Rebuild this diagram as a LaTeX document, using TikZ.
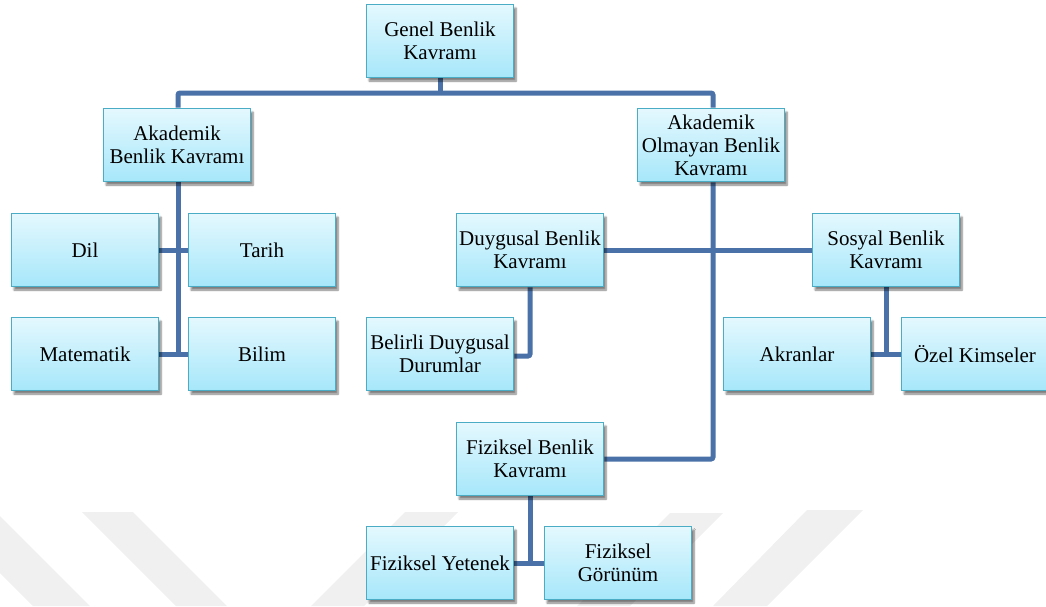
\documentclass[tikz,border=0pt]{standalone}
\usepackage{fontspec}
\setmainfont{Liberation Serif}
\usetikzlibrary{shadows.blur}

\definecolor{linkblue}{RGB}{74,114,168}
\definecolor{boxedge}{RGB}{75,172,198}
\definecolor{boxtop}{RGB}{228,248,254}
\definecolor{boxbottom}{RGB}{166,231,250}
\definecolor{markgray}{RGB}{240,240,240}

\pgfdeclarelayer{mark}
\pgfdeclarelayer{links}
\pgfsetlayers{mark,links,main}

\tikzset{
  concept/.style={
    draw=boxedge, line width=1.6pt,
    top color=boxtop, bottom color=boxbottom,
    minimum width=147pt, minimum height=73pt,
    inner sep=0pt, align=center,
    font=\fontsize{21}{23}\selectfont,
    blur shadow={shadow xshift=2.5pt, shadow yshift=-3.5pt,
                 shadow opacity=50, shadow blur steps=6}
  },
  link/.style={draw=linkblue, line width=5pt, rounded corners=2pt},
  band/.style={fill=markgray, draw=none}
}

\begin{document}
\begin{tikzpicture}[x=1pt, y=-1pt]
\useasboundingbox (0,0) rectangle (1046,606);

% concept boxes
\node[concept] (gen) at (440,41)  {Genel Benlik\\Kavramı};
\node[concept] (akd) at (177,145) {Akademik\\Benlik Kavramı};
\node[concept] (ako) at (711,145) {Akademik\\Olmayan Benlik\\Kavramı};
\node[concept] (dil) at (85,250)  {Dil};
\node[concept] (tar) at (262,250) {Tarih};
\node[concept] (mat) at (85,354)  {Matematik};
\node[concept] (bil) at (262,354) {Bilim};
\node[concept] (duy) at (530,250) {Duygusal Benlik\\Kavramı};
\node[concept] (sos) at (886,250) {Sosyal Benlik\\Kavramı};
\node[concept] (bel) at (440,354) {Belirli Duygusal\\Durumlar};
\node[concept] (akr) at (797,354) {Akranlar};
\node[concept] (oze) at (975,354) {Özel Kimseler};
\node[concept] (fiz) at (530,459) {Fiziksel Benlik\\Kavramı};
\node[concept] (fye) at (440,563) {Fiziksel Yetenek};
\node[concept] (fgo) at (618,563) {Fiziksel\\Görünüm};

\coordinate (bus) at (0,93);

% connectors
\begin{pgfonlayer}{links}
  \draw[link] (gen.south) -- (gen.south |- bus);
  \draw[link] ([xshift=1pt]akd.north) -- ([xshift=1pt]akd.north |- bus)
              -- ([xshift=2pt]ako.north |- bus) -- ([xshift=2pt]ako.north);
  \draw[link] ([xshift=1pt]akd.south) -- ([xshift=1pt]akd.south |- mat.east);
  \draw[link] (dil.east) -- (tar.west);
  \draw[link] (mat.east) -- (bil.west);
  \draw[link] ([xshift=2pt]ako.south) -- ([xshift=2pt]ako.south |- fiz.east) -- (fiz.east);
  \draw[link] (duy.east) -- (sos.west);
  \draw[link] (duy.south) |- ([yshift=-2pt]bel.east);
  \draw[link] (sos.south) -- (sos.south |- akr.east);
  \draw[link] (akr.east) -- (oze.west);
  \draw[link] (fiz.south) -- (fiz.south |- fye.east);
  \draw[link] (fye.east) -- (fgo.west);
\end{pgfonlayer}

% faint diagonal bands behind the chart
\begin{pgfonlayer}{mark}
  \fill[band] (-61,512) -- (-4,512) -- (90,606) -- (33,606) -- cycle;
  \fill[band] (82,512) -- (133,512) -- (227,606) -- (176,606) -- cycle;
  \fill[band] (405,512) -- (458,512) -- (364,606) -- (311,606) -- cycle;
  \fill[band] (670,513) -- (723,513) -- (630,606) -- (577,606) -- cycle;
  \fill[band] (807,510) -- (863,510) -- (767,606) -- (713,606) -- cycle;
\end{pgfonlayer}
\end{tikzpicture}
\end{document}
